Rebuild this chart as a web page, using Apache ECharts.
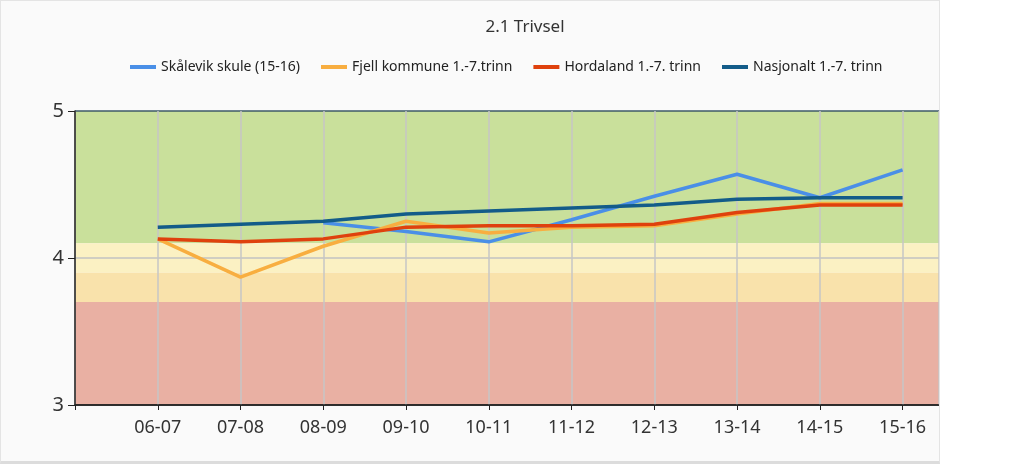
<!DOCTYPE html>
<html>
<head>
<meta charset="utf-8">
<script src="https://cdn.jsdelivr.net/npm/echarts@6/dist/echarts.min.js"></script>
<style>
  html, body { margin: 0; padding: 0; background: #ffffff; }
  #chart {
    position: absolute; left: 0; top: 0;
    width: 938px; height: 460px;
    background: #fafafa;
    border: 1px solid #e4e4e4;
    border-bottom: 3px solid #dcdcdc;
  }
</style>
</head>
<body>
<div id="chart"></div>
<script>
const categories = ['06-07', '07-08', '08-09', '09-10', '10-11', '11-12', '12-13', '13-14', '14-15', '15-16']
const skalevik = [null, null, 4.24, 4.18, 4.11, 4.26, 4.42, 4.57, 4.41, 4.60]
const fjell = [4.13, 3.87, 4.08, 4.25, 4.17, 4.21, 4.22, 4.30, 4.37, 4.37]
const hordaland = [4.13, 4.11, 4.13, 4.21, 4.22, 4.22, 4.23, 4.31, 4.36, 4.36]
const nasjonalt = [4.21, 4.23, 4.25, 4.30, 4.32, 4.34, 4.36, 4.40, 4.41, 4.41]
const yTicks = [3, 4, 5]
// score bands: [from, to]
const bands = [[4.1, 5], [3.9, 4.1], [3.7, 3.9], [3, 3.7]]
const bandColors = ['#c9e09b', '#fbf1c3', '#f9e2ab', '#e9b0a3']

const chart = echarts.init(document.getElementById('chart'))

const toPoints = (values) => values.map((v, i) => [i, v])

function lineSeries(name, values, color) {
  return {
    name,
    type: 'line',
    z: 3,
    data: toPoints(values),
    showSymbol: false,
    symbol: 'none',
    connectNulls: false,
    lineStyle: { color, width: 3.5 },
    itemStyle: { color },
  }
}

chart.setOption({
  animation: false,
  textStyle: { fontFamily: 'Noto Sans' },
  title: {
    text: '2.1 Trivsel',
    left: 519,
    textAlign: 'center',
    top: 13,
    textStyle: { fontSize: 17, fontWeight: 'normal', color: '#333' },
  },
  legend: {
    data: ['Skålevik skule (15-16)', 'Fjell kommune 1.-7.trinn', 'Hordaland 1.-7. trinn', 'Nasjonalt 1.-7. trinn'],
    left: 124,
    top: 54,
    icon: 'rect',
    itemWidth: 26,
    itemHeight: 4,
    itemGap: 21,
    itemStyle: { borderWidth: 0 },
    textStyle: { fontSize: 14, color: '#222' },
  },
  grid: { left: 74, right: 0, top: 110, bottom: 56 },
  xAxis: {
    type: 'value',
    min: -1,
    max: 9.44,
    interval: 1,
    z: 2,
    axisLine: { onZero: false, lineStyle: { color: '#222', width: 1.5 } },
    axisTick: { length: 5, lineStyle: { color: '#222' } },
    axisLabel: {
      margin: 14,
      fontSize: 18,
      color: '#333',
      showMaxLabel: false,
      formatter: (v) => categories[v] ?? '',
    },
    splitLine: { show: true, lineStyle: { color: '#c6c6c6', width: 1.5 } },
  },
  yAxis: {
    type: 'value',
    min: yTicks[0],
    max: yTicks[yTicks.length - 1],
    interval: 1,
    z: 2,
    axisLine: { show: true, onZero: false, lineStyle: { color: '#222', width: 1.5 } },
    axisTick: { show: true, length: 7, lineStyle: { color: '#222' } },
    axisLabel: { margin: 11, fontSize: 20, color: '#333' },
    splitLine: { show: true, lineStyle: { color: ['#222', '#c2c2c2', '#3d5a69'], width: 1.5 } },
  },
  series: [
    {
      name: 'bands',
      type: 'line',
      z: 0,
      data: [],
      silent: true,
      markArea: {
        silent: true,
        z: 0,
        data: bands.map((b, i) => [
          { yAxis: b[0], itemStyle: { color: bandColors[i] } },
          { yAxis: b[1] },
        ]),
      },
    },
    lineSeries('Skålevik skule (15-16)', skalevik, '#4a8fe7'),
    lineSeries('Fjell kommune 1.-7.trinn', fjell, '#f8ae40'),
    lineSeries('Hordaland 1.-7. trinn', hordaland, '#df410d'),
    lineSeries('Nasjonalt 1.-7. trinn', nasjonalt, '#135c89'),
  ],
})
</script>
</body>
</html>
